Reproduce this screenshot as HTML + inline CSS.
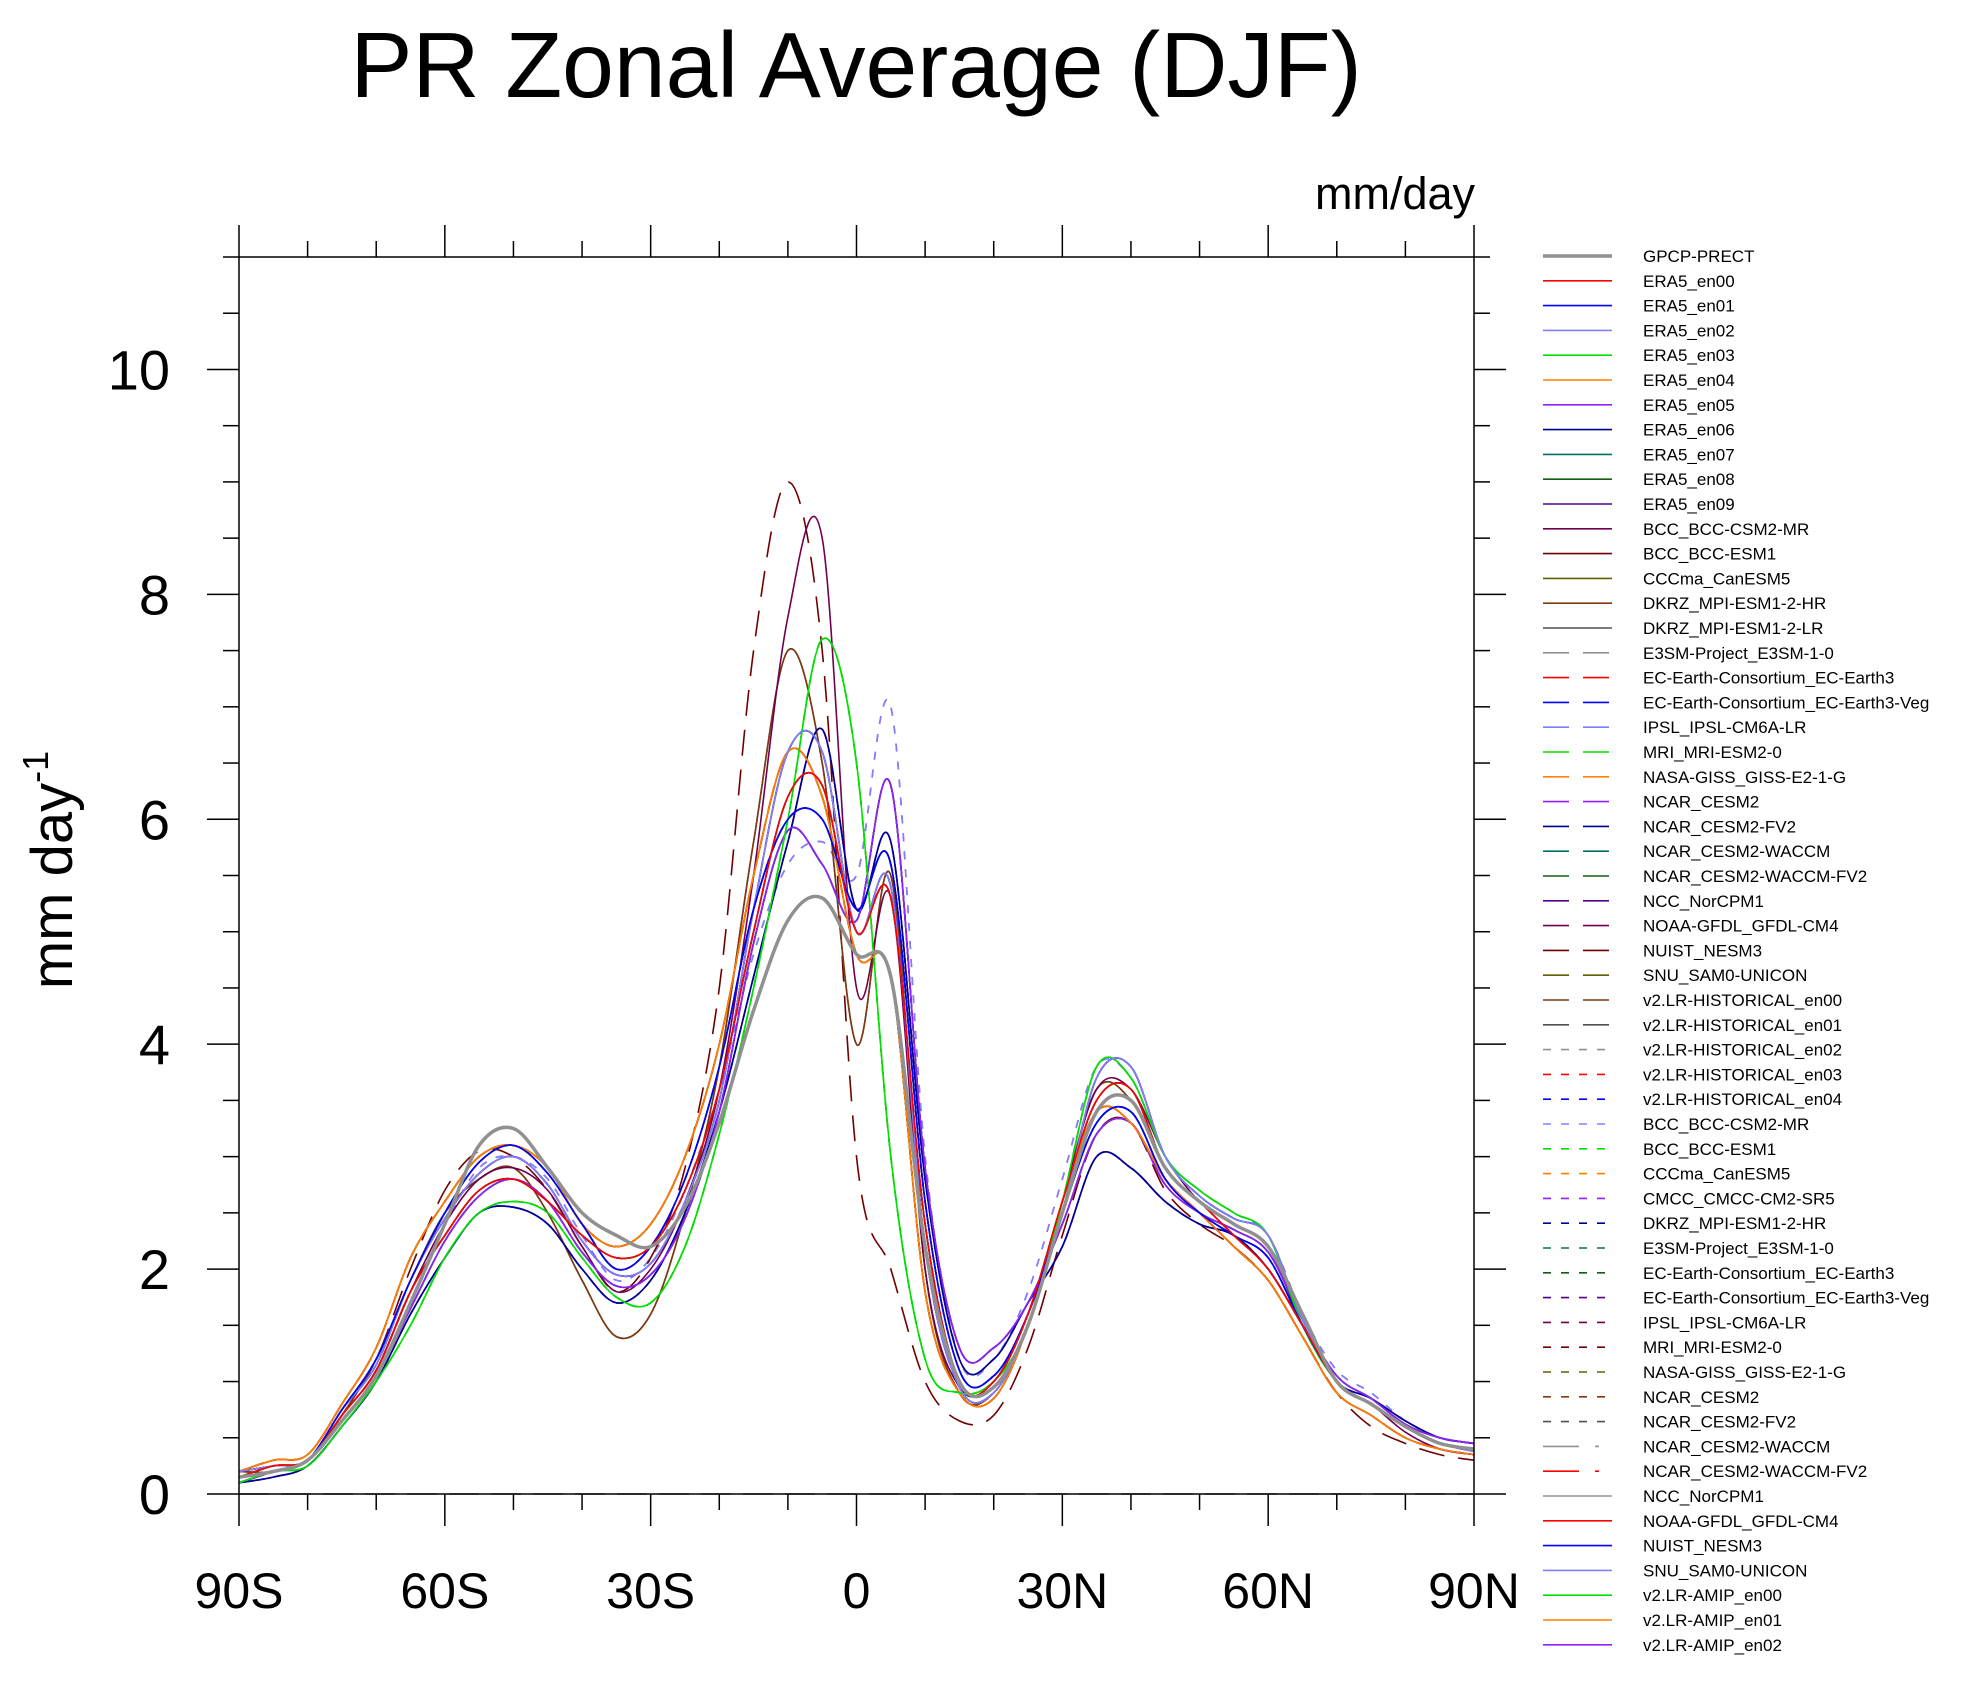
<!DOCTYPE html>
<html><head><meta charset="utf-8">
<style>
html,body{margin:0;padding:0;background:#fff;}
svg{display:block;font-family:"Liberation Sans",sans-serif;}
</style></head>
<body>
<svg id="chart" width="1970" height="1682" viewBox="0 0 1970 1682" xmlns="http://www.w3.org/2000/svg">
<text x="856" y="97" font-size="93" text-anchor="middle">PR Zonal Average (DJF)</text>
<text x="1475" y="209" font-size="45" text-anchor="end">mm/day</text>
<text transform="translate(72,870) rotate(-90)" font-size="58" text-anchor="middle">mm day<tspan font-size="36" dy="-24">-1</tspan></text>
<g id="axes"></g>
<g id="series"></g>
<rect x="239" y="257" width="1235" height="1237" fill="none" stroke="#000" stroke-width="1.5"/>
<g id="legend"></g>
</svg>
<script>
const lats = [-90,-85,-80,-75,-70,-65,-60,-55,-50,-45,-40,-35,-30,-25,-20,-15,-10,-5,0,5,10,15,20,25,30,35,40,45,50,55,60,65,70,75,80,85,90];
const profGPCP = [.15,.2,.3,.65,1.05,1.7,2.4,3.1,3.25,2.9,2.5,2.3,2.2,2.55,3.3,4.3,5.1,5.3,4.8,4.6,2.2,1.0,0.95,1.5,2.5,3.4,3.5,2.9,2.6,2.4,2.2,1.6,1.0,0.8,0.6,0.45,0.4];
const prof1 = [.2,.25,.3,.7,1.2,2.0,2.7,3.05,3.0,2.7,2.2,1.8,2.1,2.9,4.5,7.5,9.0,7.5,3.0,2.0,1.0,0.65,0.7,1.3,2.3,3.2,3.3,2.7,2.4,2.2,1.9,1.4,0.9,0.6,0.45,0.35,0.3];
const prof2 = [.15,.2,.3,.7,1.1,1.8,2.4,2.8,2.9,2.7,2.2,1.8,2.0,2.6,3.6,5.5,7.8,8.5,4.5,5.3,2.0,0.95,1.0,1.6,2.6,3.6,3.6,3.0,2.6,2.4,2.2,1.5,1.0,0.8,0.55,0.4,0.35];
const prof3 = [.1,.2,.25,.6,1.0,1.5,2.1,2.5,2.6,2.5,2.1,1.75,1.7,2.2,3.2,4.5,6.0,7.6,6.5,3.0,1.2,0.9,1.0,1.5,2.6,3.8,3.7,3.0,2.7,2.5,2.3,1.5,1.0,0.8,0.6,0.45,0.4];
const prof4 = [.2,.2,.3,.7,1.2,1.9,2.5,2.8,2.9,2.5,1.9,1.4,1.6,2.5,3.8,5.8,7.5,6.5,4.0,5.5,2.0,0.9,0.9,1.5,2.6,3.6,3.5,2.9,2.6,2.4,2.2,1.6,1.0,0.8,0.6,0.45,0.4];
const prof5 = [.15,.2,.3,.7,1.1,1.8,2.4,2.9,3.0,2.8,2.3,1.9,2.1,2.7,3.6,4.8,5.6,5.8,5.5,7.0,3.0,1.2,1.2,1.8,2.8,3.8,3.7,3.0,2.7,2.5,2.3,1.6,1.1,0.9,0.65,0.5,0.45];
const prof6 = [.15,.25,.3,.7,1.1,1.8,2.3,2.7,2.8,2.6,2.3,2.1,2.2,2.7,3.6,5.0,6.2,6.3,5.0,5.3,2.4,1.0,1.0,1.6,2.6,3.5,3.6,2.9,2.6,2.3,2.0,1.5,1.0,0.8,0.6,0.45,0.4];
const prof7 = [.1,.15,.25,.6,1.0,1.6,2.1,2.5,2.55,2.4,2.0,1.7,1.9,2.5,3.4,4.6,5.8,6.8,5.2,5.8,2.8,1.2,1.2,1.7,2.2,3.0,2.9,2.6,2.4,2.3,2.0,1.5,1.0,0.85,0.65,0.5,0.45];
const prof8 = [.2,.3,.35,.8,1.3,2.1,2.6,3.0,3.1,2.9,2.4,2.2,2.4,3.0,4.0,5.5,6.6,6.2,4.8,4.6,1.8,0.9,0.85,1.5,2.6,3.4,3.3,2.8,2.5,2.2,1.9,1.4,0.9,0.7,0.5,0.4,0.35];
const prof9 = [.15,.2,.3,.75,1.2,1.9,2.5,2.95,3.1,2.85,2.4,2.0,2.2,2.8,3.8,5.2,6.0,6.0,5.2,5.6,2.6,1.1,1.05,1.6,2.5,3.3,3.4,2.8,2.5,2.3,2.1,1.5,1.0,0.8,0.6,0.45,0.4];
const prof10 = [.2,.25,.3,.75,1.15,1.9,2.45,2.85,3.0,2.75,2.25,1.95,2.05,2.6,3.5,5.2,6.6,6.6,5.0,5.4,2.2,0.95,0.9,1.5,2.5,3.7,3.8,3.0,2.65,2.45,2.3,1.55,1.0,0.8,0.6,0.45,0.38];
const prof11 = [.1,.2,.3,.65,1.05,1.65,2.25,2.65,2.8,2.6,2.15,1.85,1.95,2.45,3.4,4.9,5.9,5.6,5.1,6.3,2.9,1.3,1.3,1.7,2.4,3.2,3.3,2.75,2.5,2.35,2.15,1.55,1.05,0.85,0.62,0.5,0.45];
const profiles = [profGPCP,prof1,prof2,prof3,prof4,prof5,prof6,prof7,prof8,prof9,prof10,prof11];
const seriesNames = ["GPCP-PRECT","ERA5_en00","ERA5_en01","ERA5_en02","ERA5_en03","ERA5_en04","ERA5_en05","ERA5_en06","ERA5_en07","ERA5_en08","ERA5_en09","BCC_BCC-CSM2-MR","BCC_BCC-ESM1","CCCma_CanESM5","DKRZ_MPI-ESM1-2-HR","DKRZ_MPI-ESM1-2-LR","E3SM-Project_E3SM-1-0","EC-Earth-Consortium_EC-Earth3","EC-Earth-Consortium_EC-Earth3-Veg","IPSL_IPSL-CM6A-LR","MRI_MRI-ESM2-0","NASA-GISS_GISS-E2-1-G","NCAR_CESM2","NCAR_CESM2-FV2","NCAR_CESM2-WACCM","NCAR_CESM2-WACCM-FV2","NCC_NorCPM1","NOAA-GFDL_GFDL-CM4","NUIST_NESM3","SNU_SAM0-UNICON","v2.LR-HISTORICAL_en00","v2.LR-HISTORICAL_en01","v2.LR-HISTORICAL_en02","v2.LR-HISTORICAL_en03","v2.LR-HISTORICAL_en04","BCC_BCC-CSM2-MR","BCC_BCC-ESM1","CCCma_CanESM5","CMCC_CMCC-CM2-SR5","DKRZ_MPI-ESM1-2-HR","E3SM-Project_E3SM-1-0","EC-Earth-Consortium_EC-Earth3","EC-Earth-Consortium_EC-Earth3-Veg","IPSL_IPSL-CM6A-LR","MRI_MRI-ESM2-0","NASA-GISS_GISS-E2-1-G","NCAR_CESM2","NCAR_CESM2-FV2","NCAR_CESM2-WACCM","NCAR_CESM2-WACCM-FV2","NCC_NorCPM1","NOAA-GFDL_GFDL-CM4","NUIST_NESM3","SNU_SAM0-UNICON","v2.LR-AMIP_en00","v2.LR-AMIP_en01","v2.LR-AMIP_en02"];
const seriesProfile = [0,6,9,10,3,8,11,7,6,9,10,2,8,11,4,4,0,8,10,7,3,8,9,11,6,10,7,9,1,6,8,11,10,9,7,5,3,8,5,11,9,8,10,6,3,8,9,7,0,10,0,6,11,9,10,8,7];
const palette = ["#909090","#ff0000","#0000ff","#8080ff","#00e000","#ff8000","#9020ff","#000090","#007060","#106010","#500090","#700050","#700000","#606000","#803810","#505050"];
const xTicks = [-90,-60,-30,0,30,60,90];
const xTickLabels = ["90S","60S","30S","0","30N","60N","90N"];
const yTicks = [0,2,4,6,8,10];

const NS="http://www.w3.org/2000/svg";
const X0=239,X1=1474,Y0=1494,YT=257;
const xs = lat => X0+(lat+90)/180*(X1-X0);
const ys = v => Y0-v*(Y0-YT)/11;
function mk(tag,attrs,parent){const e=document.createElementNS(NS,tag);for(const k in attrs)e.setAttribute(k,attrs[k]);parent.appendChild(e);return e;}
const axes=document.getElementById('axes');
for(let lat=-90;lat<=90;lat+=10){
  const major = lat%30===0;
  const x=xs(lat);
  const t1=mk('line',{x1:x,x2:x,y1:YT,y2:YT-(major?32:16),stroke:'#000','stroke-width':1.5},axes);
  
  
  const t2=mk('line',{x1:x,x2:x,y1:Y0,y2:Y0+(major?32:16),stroke:'#000','stroke-width':1.5},axes);
  
  
}
xTicks.forEach((lat,i)=>{
  const t=mk('text',{x:xs(lat),y:1608,'font-size':50,'text-anchor':'middle'},axes);
  t.textContent=xTickLabels[i];
  
  
});
for(let v=0;v<=11.001;v+=0.5){
  const major=Math.abs(v%2)<1e-6;
  const y=ys(v);
  const a=mk('line',{x1:X0,x2:X0-(major?32:16),y1:y,y2:y,stroke:'#000','stroke-width':1.5},axes);
  
  
  const b=mk('line',{x1:X1,x2:X1+(major?32:16),y1:y,y2:y,stroke:'#000','stroke-width':1.5},axes);
  
  
}
yTicks.forEach(v=>{
  const t=mk('text',{x:170,y:ys(v)+20,'font-size':56,'text-anchor':'end'},axes);
  t.textContent=String(v);
  
  
});
const zl=mk('line',{x1:X0,x2:X1,y1:ys(0),y2:ys(0),stroke:'#406060','stroke-width':1.5,'stroke-dasharray':'30 12'},axes);



function dashFor(i){
  if(i<16) return '';
  if(i<32) return '26 14';
  if(i<48) return '8 10';
  if(i<50) return '36 16 4 16';
  return '';
}
function colorFor(i){
  let k;
  if(i<16) k=i; else if(i<32) k=i-16; else if(i<48) k=i-32; else if(i<50) k=i-48; else k=i-50;
  return palette[k];
}
function pathFor(vals){
  const p=vals.map((v,i)=>[xs(lats[i]),ys(v)]);
  let d=`M${p[0][0].toFixed(1)},${p[0][1].toFixed(1)}`;
  for(let i=0;i<p.length-1;i++){
    const p0=p[Math.max(0,i-1)],p1=p[i],p2=p[i+1],p3=p[Math.min(p.length-1,i+2)];
    const c1=[p1[0]+(p2[0]-p0[0])/6,p1[1]+(p2[1]-p0[1])/6];
    const c2=[p2[0]-(p3[0]-p1[0])/6,p2[1]-(p3[1]-p1[1])/6];
    d+=`C${c1[0].toFixed(1)},${c1[1].toFixed(1)} ${c2[0].toFixed(1)},${c2[1].toFixed(1)} ${p2[0].toFixed(1)},${p2[1].toFixed(1)}`;
  }
  return d;
}
const sg=document.getElementById('series');
const lg=document.getElementById('legend');
for(let i=seriesNames.length-1;i>=0;i--){
  const vals=profiles[seriesProfile[i]];
  const el=mk('path',{d:pathFor(vals),fill:'none',stroke:colorFor(i),'stroke-width':i===0?3.5:1.6,'stroke-dasharray':dashFor(i)},sg);
  
  
}
seriesNames.forEach((n,i)=>{
  const y=256+i*24.8;
  const ln=mk('line',{x1:1543,x2:1612,y1:y,y2:y,stroke:colorFor(i),'stroke-width':i===0?3.5:1.6,'stroke-dasharray':dashFor(i)},lg);
  
  
  const t=mk('text',{x:1643,y:y+6,'font-size':17},lg);
  t.textContent=n;
  
  
});
</script>
</body></html>
